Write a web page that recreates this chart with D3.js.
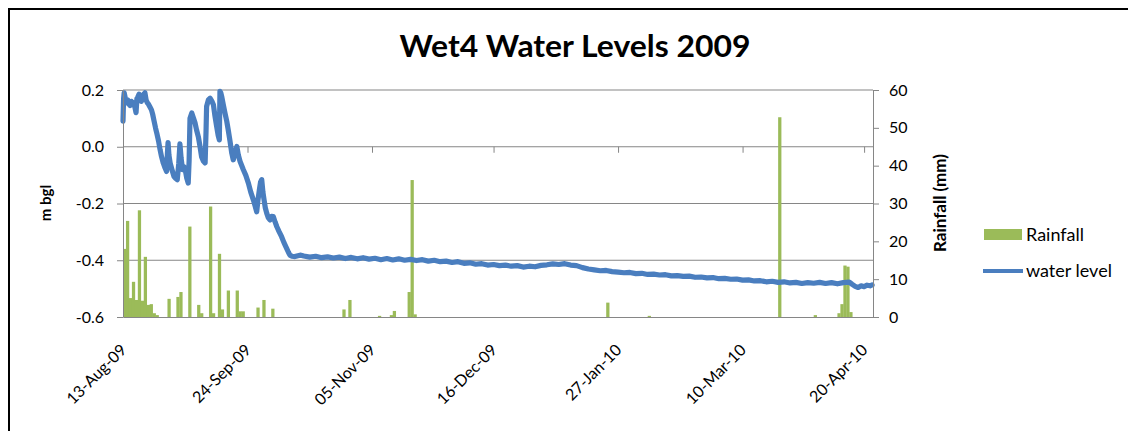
<!DOCTYPE html>
<html><head><meta charset="utf-8">
<script src="https://cdn.jsdelivr.net/npm/d3@7"></script>
<style>
html,body{margin:0;padding:0;background:#fff;}
svg{display:block;}
text{font-family:Lato,"Open Sans",sans-serif;fill:#000;}
</style></head>
<body>
<svg id="chart" width="1128" height="431"></svg>
<script>
// ---------------- DATA ----------------
const chartTitle = "Wet4 Water Levels 2009";
const seriesNames = ["Rainfall", "water level"];
const startDate = "2009-08-13";
const endDate = "2010-04-23";
const xTickDates = ["2009-08-13","2009-09-24","2009-11-05","2009-12-16","2010-01-27","2010-03-10","2010-04-20"];
const leftTicks = [0.2, 0.0, -0.2, -0.4, -0.6];
const rightTicks = [0, 10, 20, 30, 40, 50, 60];

// daily rainfall (mm)
const rainDates = ["2009-08-13","2009-08-14","2009-08-15","2009-08-16","2009-08-17","2009-08-18","2009-08-19","2009-08-20","2009-08-21","2009-08-22","2009-08-23","2009-08-24",
  "2009-08-28","2009-08-31","2009-09-01","2009-09-04","2009-09-07","2009-09-08","2009-09-11","2009-09-12","2009-09-14","2009-09-15","2009-09-17","2009-09-20","2009-09-21","2009-09-22",
  "2009-09-27","2009-09-29","2009-10-02","2009-10-26","2009-10-28","2009-11-07","2009-11-11","2009-11-12","2009-11-17","2009-11-18","2009-11-19",
  "2010-01-23","2010-02-06","2010-03-22","2010-04-03","2010-04-11","2010-04-12","2010-04-13","2010-04-14","2010-04-15"];
const rainValues = [18, 25.4, 5, 9.3, 4.5, 28.2, 4.3, 15.9, 3.2, 3.4, 1, 0.5,
  4.8, 5.3, 6.6, 23.9, 3.2, 1, 29.2, 1, 16.7, 2, 7, 7, 1.5, 1.5,
  2.5, 4.5, 2.2, 2, 4.5, 0.3, 0.5, 1.6, 6.6, 36.2, 0.7,
  3.8, 0.3, 52.8, 0.5, 1, 3.4, 13.6, 13.3, 1.3];

// water level (m bgl), time in days since 13-Aug-09
const levelDays = [0,0.2,0.4,0.8,1.2,1.6,2.0,2.4,2.8,3.2,3.6,4.0,4.4,4.7,5.0,5.4,5.8,6.2,6.6,7.0,7.4,7.8,8.2,8.6,9.1,9.6,10.0,10.5,11.0,11.4,12.0,12.5,13.0,13.6,14.2,14.7,15.0,15.2,15.5,15.9,16.5,17.2,17.8,18.3,18.8,19.2,19.6,20.1,20.5,20.9,21.5,22.0,22.3,22.6,23.2,23.8,24.3,24.8,25.4,26.0,26.5,27.1,27.7,28.0,28.2,28.8,29.4,30.0,30.5,31.0,31.6,32.1,32.5,32.7,33.0,33.3,33.8,34.4,35.0,35.5,36.1,36.7,37.2,37.8,38.4,38.9,39.5,40.0,40.6,41.4,42.3,43.1,44.0,44.6,45.1,45.5,46.0,46.4,46.8,47.2,47.6,48.0,48.5,49.0,49.6,50.1,50.7,51.3,51.9,52.7,53.5,54.3,55.2,55.8,56.3,57.0,58.0,59.0,60.0,
  61,63,65,67,69,71,73,75,77,79,81,83,85,87,89,91,93,95,97,99,101,103,105,107,109,111,113,115,117,119,121,123,125,127,129,131,133,135,137,139,141,143,145,147,149,151,153,155,157,159,161,163,165,167,169,171,173,175,177,179,181,183,185,187,189,191,193,195,197,199,201,203,205,207,209,211,213,215,217,219,221,223,225,227,229,231,233,235,237,239,241,243,245,246,247,248,249,250,251,252,252.7];
const levelValues = [0.09,0.17,0.19,0.17,0.155,0.165,0.15,0.145,0.16,0.15,0.155,0.14,0.12,0.17,0.175,0.185,0.18,0.16,0.175,0.185,0.19,0.165,0.155,0.15,0.14,0.13,0.115,0.09,0.065,0.048,0.02,-0.01,-0.035,-0.058,-0.075,-0.087,-0.02,0.015,-0.03,-0.057,-0.08,-0.105,-0.112,-0.116,-0.06,0.01,-0.04,-0.081,-0.07,-0.075,-0.11,-0.128,-0.05,0.1,0.119,0.1,0.084,0.06,0.036,0.0,-0.035,-0.05,-0.057,0.05,0.142,0.165,0.171,0.16,0.148,0.11,0.071,0.04,0.024,0.195,0.19,0.177,0.15,0.119,0.09,0.059,0.02,-0.023,-0.046,-0.02,0.001,-0.029,-0.052,-0.065,-0.081,-0.1,-0.128,-0.16,-0.188,-0.21,-0.229,-0.19,-0.152,-0.125,-0.116,-0.16,-0.188,-0.215,-0.235,-0.25,-0.258,-0.245,-0.246,-0.265,-0.282,-0.3,-0.317,-0.338,-0.358,-0.372,-0.382,-0.386,-0.387,-0.384,-0.382,
  -0.385,-0.389,-0.386,-0.391,-0.388,-0.392,-0.389,-0.394,-0.390,-0.395,-0.391,-0.396,-0.393,-0.398,-0.394,-0.399,-0.395,-0.400,-0.397,-0.401,-0.398,-0.403,-0.400,-0.405,-0.403,-0.408,-0.405,-0.411,-0.409,-0.414,-0.412,-0.417,-0.415,-0.419,-0.417,-0.421,-0.419,-0.424,-0.421,-0.423,-0.418,-0.416,-0.413,-0.415,-0.412,-0.417,-0.419,-0.426,-0.431,-0.434,-0.437,-0.436,-0.44,-0.442,-0.444,-0.443,-0.447,-0.446,-0.45,-0.449,-0.452,-0.451,-0.455,-0.454,-0.457,-0.456,-0.46,-0.459,-0.462,-0.461,-0.465,-0.464,-0.467,-0.466,-0.47,-0.469,-0.473,-0.472,-0.476,-0.474,-0.478,-0.476,-0.48,-0.478,-0.482,-0.479,-0.481,-0.478,-0.482,-0.479,-0.483,-0.479,-0.477,-0.485,-0.492,-0.496,-0.49,-0.493,-0.488,-0.49,-0.487];

// ---------------- CHART ----------------
const svg = d3.select("#chart");
const parse = d3.utcParse("%Y-%m-%d");
const fmtX = d3.utcFormat("%d-%b-%y");
const t0 = parse(startDate);
const DAY = 86400000;

const plot = {left: 123, right: 873, top: 90, bottom: 317};
const x = d3.scaleUtc().domain([t0, parse(endDate)]).range([plot.left, plot.right]);
const yL = d3.scaleLinear().domain([-0.6, 0.2]).range([plot.bottom, plot.top]);
const yR = d3.scaleLinear().domain([0, 60]).range([plot.bottom, plot.top]);

const gridCol = "#868686";
const green = "#9bbb59";
const blue = "#4a7ebf";

// frame
svg.append("path").attr("d", "M9,445V9H1140").attr("fill", "none").attr("stroke", "#000").attr("stroke-width", 2);

// title
svg.append("text").attr("x", 575).attr("y", 57).attr("text-anchor", "middle")
  .attr("font-size", 31).attr("font-weight", "bold")
  .attr("textLength", 351).attr("lengthAdjust", "spacingAndGlyphs").text(chartTitle);

// gridlines
svg.append("g").selectAll("line").data(leftTicks.filter(v => v > -0.6)).join("line")
  .attr("x1", plot.left).attr("x2", plot.right)
  .attr("y1", d => yL(d)).attr("y2", d => yL(d))
  .attr("stroke", gridCol).attr("stroke-width", 1.2);

// x tick marks at the 0.0 line
const xTickVals = xTickDates.map(parse);
const gxt = svg.append("g").attr("transform", `translate(0,${yL(0)})`)
  .call(d3.axisBottom(x).tickValues(xTickVals).tickSize(6).tickFormat(""));
gxt.select(".domain").remove();
gxt.selectAll("line").attr("stroke", gridCol);

// rainfall bars
const rain = rainDates.map((d, i) => ({date: parse(d), v: rainValues[i]}));
svg.append("g").selectAll("rect").data(rain).join("rect")
  .attr("x", d => x(d.date))
  .attr("width", d => x(new Date(d.date.getTime() + DAY)) - x(d.date) + 0.3)
  .attr("y", d => yR(d.v))
  .attr("height", d => yR(0) - yR(d.v))
  .attr("fill", green);

// water level line
const level = levelDays.map((d, i) => ({date: new Date(t0.getTime() + d * DAY), v: levelValues[i]}));
svg.append("path").datum(level)
  .attr("d", d3.line().x(d => x(d.date)).y(d => yL(d.v)))
  .attr("fill", "none").attr("stroke", blue).attr("stroke-width", 5.2)
  .attr("stroke-linejoin", "round").attr("stroke-linecap", "round");

// left axis
const fmtL = v => d3.format(".1f")(v).replace("\u2212", "-");
const gl = svg.append("g").attr("transform", `translate(${plot.left},0)`)
  .call(d3.axisLeft(yL).tickValues(leftTicks).tickFormat(fmtL).tickSize(6).tickSizeOuter(0).tickPadding(13));
gl.select(".domain").attr("stroke", gridCol);
gl.selectAll("line").attr("stroke", gridCol);
gl.selectAll("text").attr("font-size", 16).attr("font-family", "Lato").attr("fill", "#000");

// right axis
const gr = svg.append("g").attr("transform", `translate(${plot.right},0)`)
  .call(d3.axisRight(yR).tickValues(rightTicks).tickSize(6).tickSizeOuter(0).tickPadding(10));
gr.select(".domain").attr("stroke", gridCol);
gr.selectAll("line").attr("stroke", gridCol);
gr.selectAll("text").attr("font-size", 16).attr("font-family", "Lato").attr("fill", "#000");

// bottom axis with rotated labels
const gb = svg.append("g").attr("transform", `translate(0,${plot.bottom})`)
  .call(d3.axisBottom(x).tickValues(xTickVals).tickFormat(fmtX).tickSize(0).tickSizeOuter(0));
gb.select(".domain").attr("stroke", gridCol);
gb.selectAll("text").attr("font-size", 16).attr("font-family", "Lato").attr("fill", "#000")
  .attr("text-anchor", "end").attr("x", 0).attr("y", 0).attr("dy", 0)
  .attr("transform", "translate(4,34) rotate(-45)");

// axis titles
svg.append("text").attr("transform", "translate(51,203) rotate(-90)").attr("text-anchor", "middle")
  .attr("font-size", 15).attr("font-weight", "bold").text("m bgl");
svg.append("text").attr("transform", "translate(946,203) rotate(-90)").attr("text-anchor", "middle")
  .attr("font-size", 17).attr("font-weight", "bold").text("Rainfall (mm)");

// legend
const lg = svg.append("g");
lg.append("rect").attr("x", 984).attr("y", 229).attr("width", 38).attr("height", 11).attr("fill", green);
lg.append("text").attr("x", 1026).attr("y", 241).attr("font-size", 18).text(seriesNames[0]);
lg.append("line").attr("x1", 983).attr("x2", 1023).attr("y1", 271).attr("y2", 271)
  .attr("stroke", blue).attr("stroke-width", 4);
lg.append("text").attr("x", 1026).attr("y", 277).attr("font-size", 18).text(seriesNames[1]);
</script>
</body></html>
